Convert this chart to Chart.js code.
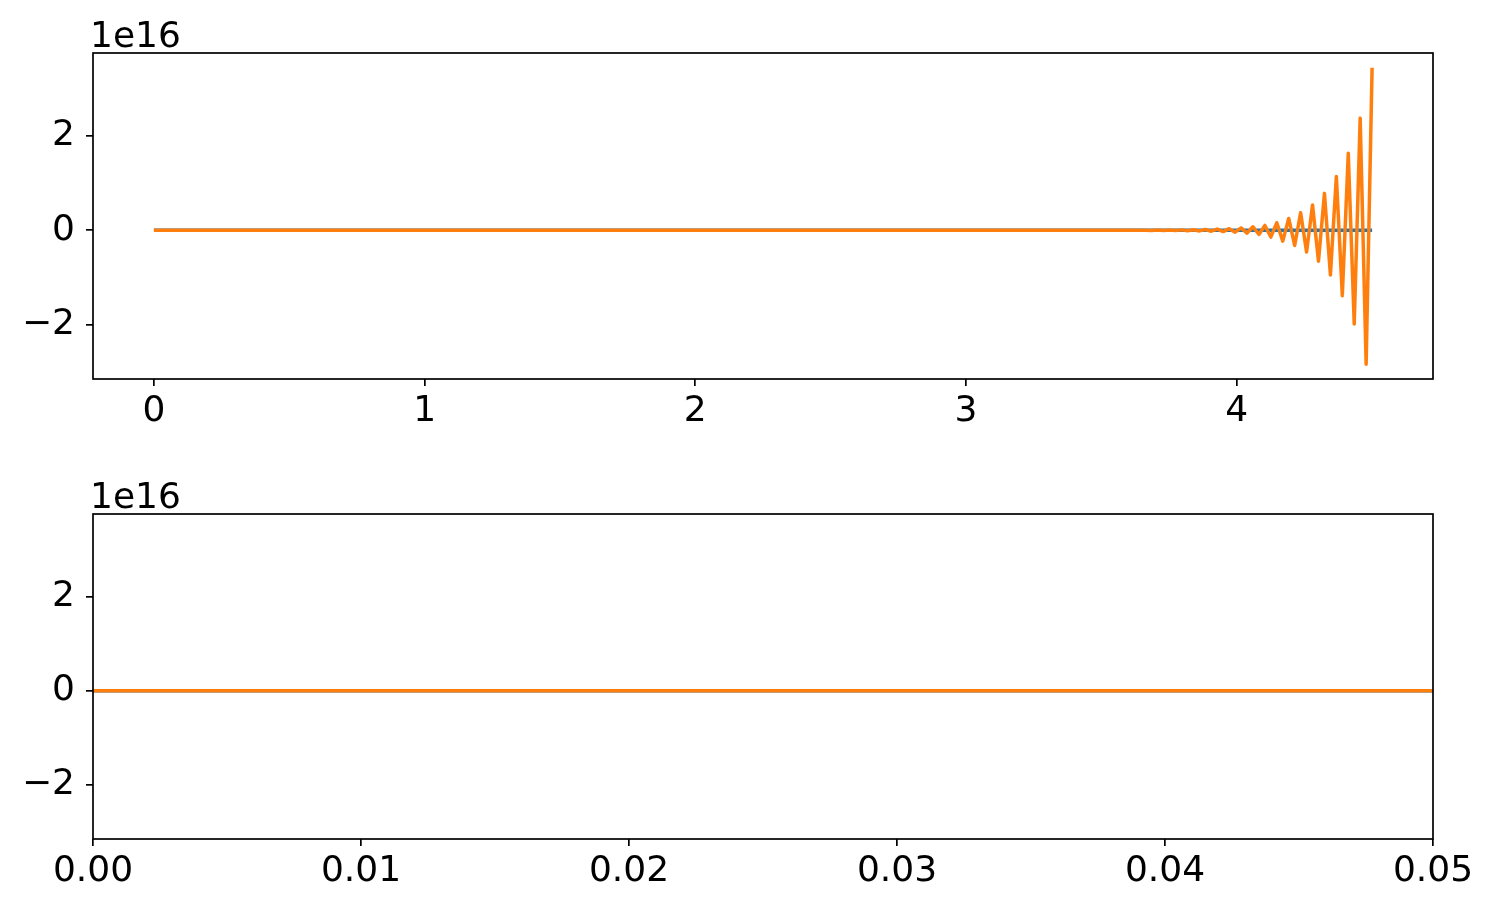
<!DOCTYPE html>
<html>
<head>
<meta charset="utf-8">
<script src="https://cdn.jsdelivr.net/npm/chart.js@4.4.1/dist/chart.umd.min.js"></script>
<style>
  html, body { margin: 0; padding: 0; background: #ffffff; }
  #wrap { position: relative; width: 1493px; height: 913px; }
  canvas { position: absolute; left: 0; }
</style>
</head>
<body>
<div id="wrap">
  <canvas id="topChart" width="1493" height="456" style="top:0"></canvas>
  <canvas id="bottomChart" width="1493" height="457" style="top:456px"></canvas>
</div>
<script>
// Data (time, value). Flat part is ~0 at this scale
var tNumeric = [0, 3.598, 3.62, 3.642, 3.664, 3.686, 3.708, 3.73, 3.752, 3.774, 3.796,
  3.818, 3.84, 3.862, 3.884, 3.906, 3.928, 3.95, 3.972, 3.994, 4.016,
  4.038, 4.06, 4.082, 4.104, 4.126, 4.148, 4.17, 4.192, 4.214, 4.236,
  4.258, 4.28, 4.302, 4.324, 4.346, 4.368, 4.39, 4.412, 4.434, 4.456,
  4.478, 4.5];
var yNumeric = [0, 0, 0.0018e16, -0.0022e16, 0.0027e16, -0.0032e16, 0.0038e16, -0.0046e16, 0.0055e16, -0.0066e16, 0.008e16,
  -0.0095e16, 0.011e16, -0.014e16, 0.016e16, -0.02e16, 0.024e16, -0.028e16, 0.034e16, -0.041e16, 0.049e16,
  -0.059e16, 0.074e16, -0.089e16, 0.102e16, -0.144e16, 0.159e16, -0.229e16, 0.25e16, -0.322e16, 0.371e16,
  -0.462e16, 0.534e16, -0.653e16, 0.78e16, -0.944e16, 1.135e16, -1.383e16, 1.629e16, -1.983e16, 2.371e16,
  -2.832e16, 3.435e16];
var tExact = [0, 4.5];
var yExact = [0, 0];

var topXTicks = [0, 1, 2, 3, 4];
var bottomXTicks = [0, 0.01, 0.02, 0.03, 0.04, 0.05];
var yTicks = [-2e16, 0, 2e16];

var FONT = "'DejaVu Sans', sans-serif";
var FSIZE = 36;

function toPoints(xs, ys) {
  return xs.map(function (x, i) { return { x: x, y: ys[i] }; });
}

// box around the plot + the "1e16" offset text
var framePlugin = {
  id: "frame",
  afterDraw: function (chart) {
    var a = chart.chartArea;
    var c = chart.ctx;
    c.save();
    c.strokeStyle = "#000000";
    c.lineWidth = 1.7;
    c.strokeRect(a.left, a.top, a.right - a.left, a.bottom - a.top);
    c.fillStyle = "#000000";
    c.font = FSIZE + "px " + FONT;
    c.textAlign = "left";
    c.textBaseline = "alphabetic";
    c.fillText("1e16", a.left - 3, a.top - 6);
    c.restore();
  }
};

function makeChart(id, xMin, xMax, xTicks, xFmt, top, xHeight) {
  var ctx = document.getElementById(id).getContext("2d");
  return new Chart(ctx, {
    type: "line",
    data: {
      datasets: [
        {
          data: toPoints(tNumeric, yNumeric),
          borderColor: "#ff7f0e",
          borderWidth: 3.5,
          pointRadius: 0,
          tension: 0,
          fill: false,
          borderJoinStyle: "round"
        },
        {
          data: toPoints(tExact, yExact),
          borderColor: "#1f77b4",
          borderWidth: 3.5,
          pointRadius: 0,
          tension: 0,
          fill: false
        }
      ]
    },
    options: {
      responsive: false,
      animation: false,
      devicePixelRatio: 1,
      layout: { padding: { top: top, right: 60, left: 0, bottom: 0 } },
      plugins: {
        legend: { display: false },
        tooltip: { enabled: false },
        title: { display: false }
      },
      scales: {
        x: {
          type: "linear",
          min: xMin,
          max: xMax,
          afterFit: function (s) { s.height = xHeight; },
          afterBuildTicks: function (s) {
            s.ticks = xTicks.map(function (v) { return { value: v }; });
          },
          border: { display: false },
          grid: {
            drawOnChartArea: false,
            drawTicks: true,
            tickLength: 7,
            color: "#000000",
            lineWidth: 1.7
          },
          ticks: {
            color: "#000000",
            font: { family: FONT, size: FSIZE },
            padding: 4,
            maxRotation: 0,
            autoSkip: false,
            callback: function (v) { return xFmt(v); }
          }
        },
        y: {
          type: "linear",
          min: -3.145e16,
          max: 3.748e16,
          afterFit: function (s) { s.width = 93; },
          afterBuildTicks: function (s) {
            s.ticks = yTicks.map(function (v) { return { value: v }; });
          },
          border: { display: false },
          grid: {
            drawOnChartArea: false,
            drawTicks: true,
            tickLength: 7,
            color: "#000000",
            lineWidth: 1.7
          },
          ticks: {
            color: "#000000",
            font: { family: FONT, size: FSIZE },
            padding: 11,
            autoSkip: false,
            callback: function (v) {
              var n = Math.round(v / 1e16);
              return n < 0 ? "\u2212" + Math.abs(n) : String(n);
            }
          }
        }
      }
    },
    plugins: [framePlugin]
  });
}

makeChart("topChart", -0.225, 4.725, topXTicks, function (v) { return String(v); }, 53, 77);
makeChart("bottomChart", 0, 0.05, bottomXTicks, function (v) { return v.toFixed(2); }, 58, 74);
</script>
</body>
</html>
